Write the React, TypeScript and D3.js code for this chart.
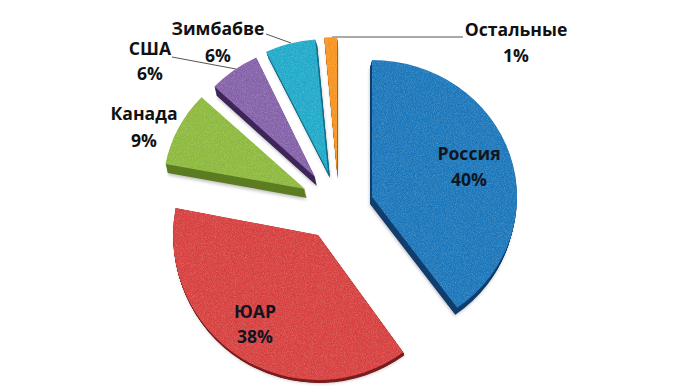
import React from "react";
import * as d3 from "d3";

const categories = ["Россия", "ЮАР", "Канада", "США", "Зимбабве", "Остальные"];
const shares = [40, 38, 9, 6, 5.6, 1.4];
const percentLabels = ["40%", "38%", "9%", "6%", "6%", "1%"];

const topColors = ["#1a76ba", "#d63f3e", "#8cb93c", "#8460a8", "#1fa9c9", "#f6931f"];
const sideColors = ["#123f6e", "#7c1d20", "#5c7d22", "#3f2759", "#12708a", "#a9651a"];

// Placement of each exploded, tilted slice: apex, horizontal and vertical radius, extrusion
const apexX = [372, 318, 305, 315, 328, 337];
const apexY = [197, 235, 189, 177, 172, 171];
const radiusX = [145, 145, 142, 138, 145, 145];
const radiusY = [137, 145, 134, 132, 133, 134];
const depthX = [-2, 1, 2, 2, 2, 1];
const depthY = [7, 3, 9, 9, 6, 8];

const labelX = [469, 255, 144, 150, 218, 516];
const labelY = [155, 313, 115, 50, 30, 31];
const valueY = [181, 338, 142, 75, 57, 57];

const leaderLines: [number, number, number, number][] = [
  [266, 34, 291, 43],
  [172, 57, 236, 69],
  [463, 37, 332, 37],
];

const W = 680;
const H = 387;

export default function App() {
  const pie = d3.pie<number>().sort(null).value((d) => d)(shares);
  const unitArc = d3.arc<d3.PieArcDatum<number>>().innerRadius(0).outerRadius(1);

  return (
    <svg
      width={W}
      height={H}
      viewBox={`0 0 ${W} ${H}`}
      style={{ position: "fixed", left: 0, top: 0, background: "#fff" }}
      fontFamily="'Open Sans', sans-serif"
    >
      <defs>
        <filter id="grain" x="-5%" y="-5%" width="110%" height="110%" colorInterpolationFilters="sRGB">
          <feTurbulence type="fractalNoise" baseFrequency="1.1" numOctaves="2" seed="4" result="n" />
          <feColorMatrix
            in="n"
            type="matrix"
            values="0 0 0 0 1  0 0 0 0 1  0 0 0 0 1  0.45 0 0 0 -0.17"
            result="light"
          />
          <feComposite in="light" in2="SourceAlpha" operator="in" result="speck" />
          <feMerge>
            <feMergeNode in="SourceGraphic" />
            <feMergeNode in="speck" />
          </feMerge>
        </filter>
        <filter id="soft" x="-10%" y="-10%" width="120%" height="120%">
          <feGaussianBlur stdDeviation="1.5" />
        </filter>
      </defs>

      {leaderLines.map(([x1, y1, x2, y2], i) => (
        <line key={i} x1={x1} y1={y1} x2={x2} y2={y2} stroke="#555" strokeWidth={1} />
      ))}

      {pie.map((d, i) => {
        const path = unitArc(d) as string;
        const steps = d3.range(1, 11).map((k) => k / 10);
        const transformAt = (t: number) =>
          `translate(${apexX[i] + depthX[i] * t},${apexY[i] + depthY[i] * t}) scale(${radiusX[i]},${radiusY[i]})`;
        return (
          <g key={categories[i]}>
            <g filter="url(#soft)" opacity={0.22}>
              <path d={path} transform={transformAt(1.25)} fill="#000" />
            </g>
            {steps.reverse().map((t) => (
              <path key={t} d={path} transform={transformAt(t)} fill={sideColors[i]} />
            ))}
            <g filter="url(#grain)">
              <path d={path} transform={transformAt(0)} fill={topColors[i]} />
            </g>
          </g>
        );
      })}

      {categories.map((c, i) => (
        <g key={c} textAnchor="middle" fontWeight={700} fontSize={17.6} fill={i < 2 ? "#10151f" : "#111"}>
          <text x={labelX[i]} y={labelY[i]} dominantBaseline="middle">
            {c}
          </text>
          <text x={labelX[i]} y={valueY[i]} dominantBaseline="middle">
            {percentLabels[i]}
          </text>
        </g>
      ))}
    </svg>
  );
}
